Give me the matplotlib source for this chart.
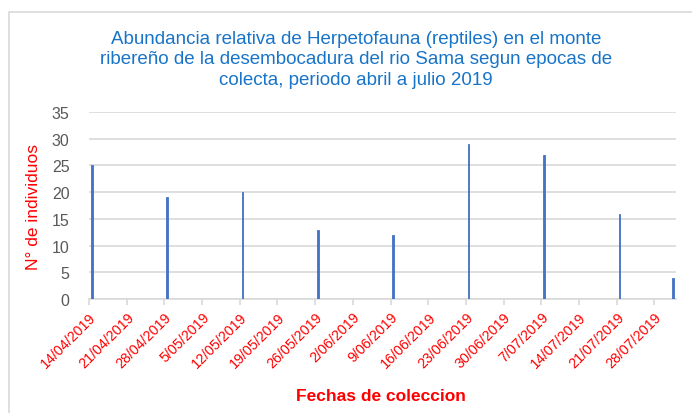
import matplotlib
matplotlib.use("Agg")
import matplotlib.pyplot as plt
import matplotlib.patches as mpatches
import datetime as dt

plt.rcParams['font.family'] = ['Liberation Sans', 'DejaVu Sans']

# data
fechas = ["14/04/2019", "28/04/2019", "12/05/2019", "26/05/2019", "9/06/2019",
          "23/06/2019", "7/07/2019", "21/07/2019", "31/07/2019"]
individuos = [25, 19, 20, 13, 12, 29, 27, 16, 4]

titulo = ("Abundancia relativa de Herpetofauna (reptiles) en el monte\n"
          "ribereño de la desembocadura del rio Sama segun epocas de\n"
          "colecta, periodo abril a julio 2019")

BLUE = "#4472C4"
TITLE_BLUE = "#1874C8"
RED = "#FF0000"
GRID = "#D9D9D9"
TICKGRAY = "#595959"

x = [dt.datetime.strptime(f, "%d/%m/%Y") + dt.timedelta(hours=12) for f in fechas]

fig = plt.figure(figsize=(6.92, 4.14), dpi=100)
W, H = 692, 414
ax = fig.add_axes([89 / W, 1 - 300 / H, (676 - 89) / W, (300 - 113) / H])

# chart border
fig.patches.append(mpatches.Rectangle((9 / W, -0.1), 1.1, 1 - 13 / H + 0.1,
                                      transform=fig.transFigure, fill=False,
                                      edgecolor="#D9D9D9", lw=1.2))

ax.bar(x, individuos, width=0.3, color=BLUE, edgecolor=BLUE, lw=0.6, zorder=3)

start = dt.datetime(2019, 4, 14)
ax.set_xlim(start, dt.datetime(2019, 8, 1))
ax.set_ylim(0, 35)
ax.set_yticks(range(0, 36, 5))
ticks = [start + dt.timedelta(days=7 * i) for i in range(16)]
ax.set_xticks(ticks)
ax.set_xticklabels([f"{d.day}/{d.month:02d}/{d.year}" for d in ticks],
                   rotation=45, ha="right", rotation_mode="anchor",
                   color=RED, fontsize=10.3)
ax.tick_params(axis="y", length=0, colors=TICKGRAY, labelsize=11.5, pad=14)
ax.tick_params(axis="x", length=4, color=GRID, width=1.2)
ax.grid(axis="y", color=GRID, lw=1.2, zorder=0)
for s in ["top", "right", "left"]:
    ax.spines[s].set_visible(False)
ax.spines["bottom"].set_color(GRID)
ax.spines["bottom"].set_linewidth(1.2)

ax.set_ylabel("N° de individuos", color=RED, fontsize=12.5, labelpad=8)
fig.text(381 / W, 1 - 397 / H, "Fechas de coleccion", color=RED,
         fontsize=12.5, fontweight="bold", ha="center", va="center")
fig.text(356 / W, 1 - 60 / H, titulo, color=TITLE_BLUE, fontsize=13.5,
         ha="center", va="center", linespacing=1.3)

fig.savefig("out.png", dpi=100)
